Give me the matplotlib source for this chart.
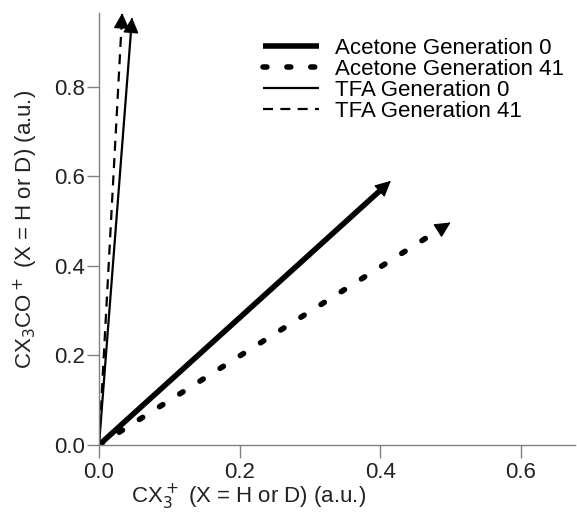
import numpy as np
import matplotlib
matplotlib.use("Agg")
import matplotlib.pyplot as plt

plt.rcParams['font.family'] = ['Liberation Sans', 'DejaVu Sans']

# vector end points (a.u.), all vectors start at the origin
labels = ["Acetone Generation 0", "Acetone Generation 41",
          "TFA Generation 0", "TFA Generation 41"]
x_end = [0.415, 0.50, 0.047, 0.033]
y_end = [0.59, 0.497, 0.955, 0.965]

x_ticks = [0.0, 0.2, 0.4, 0.6]
y_ticks = [0.0, 0.2, 0.4, 0.6, 0.8]

styles = [
    dict(lw=4.0, ls='-'),
    dict(lw=4.0, ls=(0, (0.7, 3.6)), dash_capstyle='round'),
    dict(lw=1.6, ls='-'),
    dict(lw=1.6, ls=(0, (4.5, 3.3))),
]

fs = 16
fig = plt.figure(figsize=(5.77, 5.12), dpi=100)
ax = fig.add_axes([99 / 577, 67 / 512, 476 / 577, 432 / 512])
ax.set_xlim(0, 0.677)
ax.set_ylim(0, 0.965)

fig.canvas.draw()
head_px = 13
for lab, xe, ye, st in zip(labels, x_end, y_end, styles):
    p0 = ax.transData.transform((0, 0))
    p1 = ax.transData.transform((xe, ye))
    length = np.hypot(*(p1 - p0))
    f = 1 - head_px / length
    ax.plot([0, xe * f], [0, ye * f], color='black', solid_capstyle='butt',
            label=lab, **st)
    ax.annotate('', xy=(xe, ye), xytext=(xe * 0.995, ye * 0.995),
                arrowprops=dict(arrowstyle='-|>', color='black', lw=1,
                                mutation_scale=24, shrinkA=0, shrinkB=0))

for side in ['top', 'right']:
    ax.spines[side].set_visible(False)
for side in ['left', 'bottom']:
    ax.spines[side].set_color('#808080')
    ax.spines[side].set_linewidth(1.0)

ax.set_xticks(x_ticks)
ax.set_yticks(y_ticks)
ax.xaxis.set_major_formatter(matplotlib.ticker.FormatStrFormatter('%.1f'))
ax.yaxis.set_major_formatter(matplotlib.ticker.FormatStrFormatter('%.1f'))
ax.tick_params(direction='out', length=9, width=1, color='#808080',
               labelsize=fs, labelcolor='#222222')
ax.tick_params(axis='x', pad=3)
ax.tick_params(axis='y', pad=1)

ax.set_xlabel(r'CX$_3^+$ (X = H or D) (a.u.)', fontsize=fs, color='#222222')
ax.set_ylabel(r'CX$_3$CO$^+$ (X = H or D) (a.u.)', fontsize=fs, color='#222222')
ax.xaxis.set_label_coords(0.314, -0.087)
ax.yaxis.set_label_coords(-0.123, 0.50)

fig.legend(loc='upper left', bbox_to_anchor=(263 / 577, 1 - 38 / 512),
           frameon=False, fontsize=fs, labelspacing=0.0,
           handlelength=2.5, handletextpad=0.75, borderpad=0, borderaxespad=0)

fig.savefig('out.png', dpi=100)
